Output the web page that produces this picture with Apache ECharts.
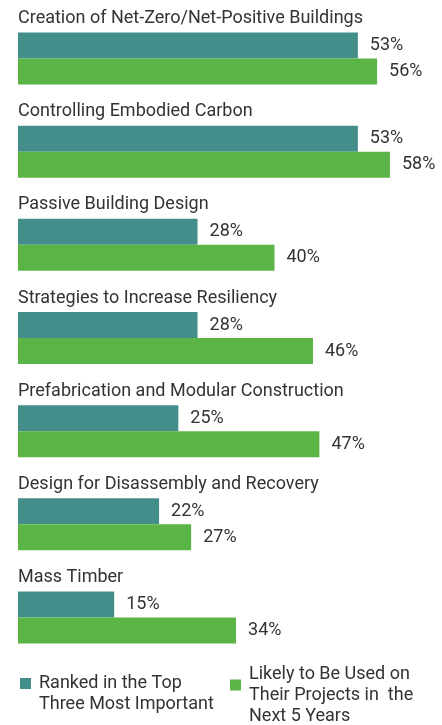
<!DOCTYPE html>
<html>
<head>
<meta charset="utf-8">
<script src="https://cdn.jsdelivr.net/npm/echarts@6/dist/echarts.min.js"></script>
<style>
  html, body { margin: 0; padding: 0; background: #fff; }
  #chart { width: 442px; height: 725px; }
</style>
</head>
<body>
<div id="chart"></div>
<script>
const categories = [
  'Creation of Net-Zero/Net-Positive Buildings',
  'Controlling Embodied Carbon',
  'Passive Building Design',
  'Strategies to Increase Resiliency',
  'Prefabrication and Modular Construction',
  'Design for Disassembly and Recovery',
  'Mass Timber'
];
const rankedTop3 = [53, 53, 28, 28, 25, 22, 15];
const likelyNext5 = [56, 58, 40, 46, 47, 27, 34];
const seriesNames = [
  'Ranked in the Top\nThree Most Important',
  'Likely to Be Used on\nTheir Projects in  the\nNext 5 Years'
];

const font = 'Roboto';
const textColor = '#333';

const chart = echarts.init(document.getElementById('chart'));

const valueLabel = {
  show: true,
  position: 'right',
  distance: 12,
  formatter: '{c}%',
  fontFamily: font,
  fontSize: 18,
  color: textColor
};

const legendText = {
  fontFamily: font,
  fontSize: 18,
  color: textColor,
  lineHeight: 21,
  padding: [0, 0, 0, 3]
};

// blank first line so the square sits level with the upper part of the text
const legendFormatter = name => '\n' + name;

chart.setOption({
  animation: false,
  grid: { left: 18, right: 20, top: 12, height: 652 },
  xAxis: {
    type: 'value',
    min: 0,
    max: 63,
    show: false
  },
  yAxis: {
    type: 'category',
    data: categories,
    inverse: true,
    axisLine: { show: false },
    axisTick: { show: false },
    axisLabel: {
      inside: true,
      margin: 0,
      align: 'left',
      verticalAlign: 'bottom',
      lineHeight: 22,
      padding: [0, 0, 29, 0],
      fontFamily: font,
      fontSize: 18,
      color: textColor
    }
  },
  legend: [
    {
      data: [seriesNames[0]],
      left: 20,
      top: 652,
      padding: 0,
      icon: 'rect',
      itemWidth: 11,
      itemHeight: 11,
      formatter: legendFormatter,
      textStyle: legendText
    },
    {
      data: [seriesNames[1]],
      left: 230,
      top: 643,
      padding: 0,
      icon: 'rect',
      itemWidth: 11,
      itemHeight: 11,
      formatter: legendFormatter,
      textStyle: legendText
    }
  ],
  series: [
    {
      name: seriesNames[0],
      type: 'bar',
      data: rankedTop3,
      barWidth: 26,
      barGap: '0%',
      itemStyle: { color: '#438E8B' },
      label: valueLabel
    },
    {
      name: seriesNames[1],
      type: 'bar',
      data: likelyNext5,
      barWidth: 26,
      barGap: '0%',
      itemStyle: { color: '#5BB446' },
      label: valueLabel
    }
  ]
});
</script>
</body>
</html>
